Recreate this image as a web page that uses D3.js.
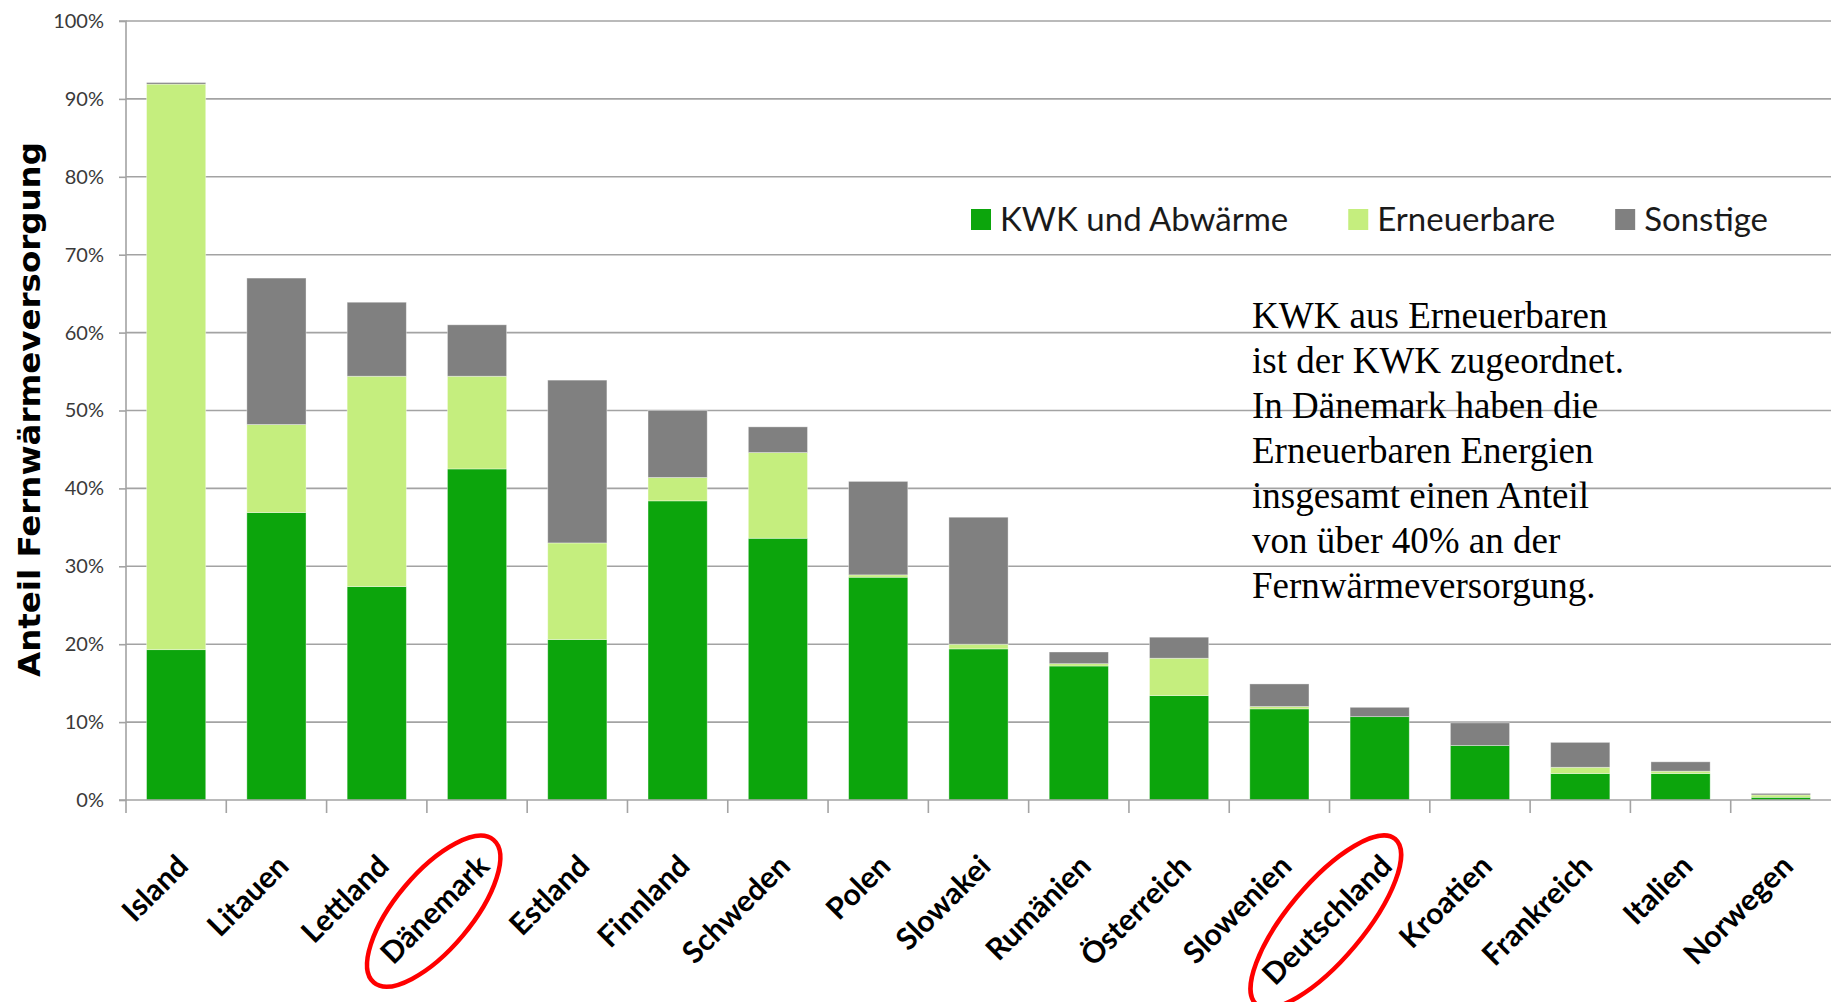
<!DOCTYPE html>
<html lang="de">
<head>
<meta charset="utf-8">
<title>Anteil Fernwärmeversorgung</title>
<script src="https://cdn.jsdelivr.net/npm/d3@7"></script>
<style>
  html, body { margin: 0; padding: 0; background: #fff; }
  svg { display: block; }
</style>
</head>
<body>
<svg id="chart" width="1831" height="1002"></svg>
<script>
// Länder, sortiert nach Gesamtanteil
const categories = ["Island", "Litauen", "Lettland", "Dänemark", "Estland", "Finnland", "Schweden", "Polen",
  "Slowakei", "Rumänien", "Österreich", "Slowenien", "Deutschland", "Kroatien", "Frankreich", "Italien", "Norwegen"];

// Anteile in Prozent
const kwk         = [19.3, 36.9, 27.4, 42.5, 20.6, 38.4, 33.6, 28.6, 19.4, 17.2, 13.4, 11.7, 10.7, 7.0, 3.4, 3.4, 0.35];
const erneuerbare = [72.6, 11.3, 27.0, 11.9, 12.4, 3.0, 11.0, 0.3, 0.6, 0.3, 4.8, 0.3, 0.0, 0.0, 0.8, 0.3, 0.3];
const sonstige    = [0.2, 18.8, 9.5, 6.6, 20.9, 8.6, 3.3, 12.0, 16.3, 1.5, 2.7, 2.9, 1.2, 2.9, 3.2, 1.2, 0.2];

const seriesNames  = ["KWK und Abwärme", "Erneuerbare", "Sonstige"];
const seriesColors = ["#0ca50c", "#c5ee7e", "#808080"];

const yTicks = [0, 10, 20, 30, 40, 50, 60, 70, 80, 90, 100];
const yTitle = "Anteil  Fernwärmeversorgung";

const highlighted = ["Dänemark", "Deutschland"];

const noteLines = [
  "KWK aus Erneuerbaren",
  "ist der KWK zugeordnet.",
  "In Dänemark haben die",
  "Erneuerbaren Energien",
  "insgesamt einen Anteil",
  "von über 40% an der",
  "Fernwärmeversorgung."
];

// ---------------------------------------------------------------
const svg = d3.select("#chart");
const plot = { left: 126, right: 1831, top: 21, bottom: 800 };

const rows = categories.map((c, i) => ({ land: c, k: kwk[i], e: erneuerbare[i], s: sonstige[i] }));
const stack = d3.stack().keys(["k", "e", "s"])(rows);

const x = d3.scaleBand()
  .domain(categories)
  .range([plot.left, plot.right])
  .paddingInner(0.41)
  .paddingOuter(0.205);

const y = d3.scaleLinear().domain([0, 100]).range([plot.bottom, plot.top]);

// horizontale Gitterlinien
svg.append("g")
  .selectAll("line")
  .data(yTicks.filter(d => d > 0))
  .join("line")
  .attr("x1", plot.left).attr("x2", plot.right)
  .attr("y1", d => y(d)).attr("y2", d => y(d))
  .attr("stroke", "#a3a3a3")
  .attr("stroke-width", 1.6);

// gestapelte Balken
svg.append("g")
  .selectAll("g")
  .data(stack)
  .join("g")
  .attr("fill", (d, i) => seriesColors[i])
  .selectAll("rect")
  .data(d => d.filter(p => p[1] - p[0] > 0))
  .join("rect")
  .attr("x", d => x(d.data.land))
  .attr("width", x.bandwidth())
  .attr("y", d => y(d[1]))
  .attr("height", d => y(d[0]) - y(d[1]))
  .attr("stroke", "rgba(255,255,255,0.45)")
  .attr("stroke-width", 0.8);

// Y-Achse
const yAxis = svg.append("g")
  .attr("transform", `translate(${plot.left},0)`)
  .call(d3.axisLeft(y).tickValues(yTicks).tickFormat(d => d + "%").tickSize(7).tickPadding(15));
yAxis.select(".domain").attr("stroke", "#a3a3a3").attr("stroke-width", 1.6).attr("d", `M-7,${plot.bottom}H0V${plot.top}H-7`);
yAxis.selectAll(".tick line").attr("stroke", "#a3a3a3").attr("stroke-width", 1.6);
yAxis.selectAll(".tick text")
  .attr("fill", "#3a3a3a")
  .style("font-family", "Lato, 'Open Sans', sans-serif")
  .style("font-size", "20px");

// X-Achse mit Teilstrichen zwischen den Kategorien
const step = x.step();
svg.append("line")
  .attr("x1", plot.left).attr("x2", plot.right)
  .attr("y1", plot.bottom).attr("y2", plot.bottom)
  .attr("stroke", "#a3a3a3").attr("stroke-width", 1.6);
svg.append("g")
  .selectAll("line")
  .data(categories)
  .join("line")
  .attr("x1", d => x(d) - step * x.paddingInner() / 2)
  .attr("x2", d => x(d) - step * x.paddingInner() / 2)
  .attr("y1", plot.bottom).attr("y2", plot.bottom + 13)
  .attr("stroke", "#a3a3a3").attr("stroke-width", 1.6);

// Kategorienbeschriftung, schräg
const labels = svg.append("g")
  .selectAll("g")
  .data(categories)
  .join("g")
  .attr("transform", d => `translate(${x(d) + x.bandwidth() / 2 + 14},868) rotate(-45)`);

labels.append("text")
  .attr("text-anchor", "end")
  .attr("fill", "#000")
  .style("font-family", "Lato, 'Open Sans', sans-serif")
  .style("font-weight", "700")
  .style("font-size", "30px")
  .text(d => d);

// rote Markierung um ausgewählte Länder
labels.filter(d => highlighted.includes(d)).each(function () {
  const g = d3.select(this);
  const len = g.select("text").node().getComputedTextLength();
  const cx = -len / 2 - 2, cy = -10;
  g.insert("ellipse", "text")
    .attr("cx", cx).attr("cy", cy)
    .attr("rx", len / 2 + 24).attr("ry", 38)
    .attr("transform", `rotate(-5,${cx},${cy})`)
    .attr("fill", "none")
    .attr("stroke", "#ff0000")
    .attr("stroke-width", 4.5);
});

// Achsentitel
svg.append("text")
  .attr("transform", `translate(40,${(142 + 677) / 2}) rotate(-90)`)
  .attr("text-anchor", "middle")
  .attr("fill", "#000")
  .attr("textLength", 535)
  .attr("lengthAdjust", "spacingAndGlyphs")
  .style("font-family", "'DejaVu Sans', Verdana, sans-serif")
  .style("font-weight", "700")
  .style("font-size", "31px")
  .text(yTitle);

// Legende
const legend = svg.append("g").attr("transform", "translate(971,0)");
let lx = 0;
seriesNames.forEach((name, i) => {
  const item = legend.append("g").attr("transform", `translate(${lx},0)`);
  item.append("rect")
    .attr("x", 0).attr("y", 209).attr("width", 20).attr("height", 21)
    .attr("fill", seriesColors[i]);
  const t = item.append("text")
    .attr("x", 29).attr("y", 231)
    .attr("fill", "#1a1a1a")
    .style("font-family", "Lato, 'Open Sans', sans-serif")
    .style("font-size", "33px")
    .text(name);
  lx += 29 + t.node().getComputedTextLength() + 60;
});

// Hinweistext
svg.append("text")
  .attr("fill", "#000")
  .style("font-family", "'Liberation Serif', 'Times New Roman', serif")
  .style("font-size", "37px")
  .selectAll("tspan")
  .data(noteLines)
  .join("tspan")
  .attr("x", 1252)
  .attr("y", (d, i) => 328 + i * 45)
  .text(d => d);
</script>
</body>
</html>
